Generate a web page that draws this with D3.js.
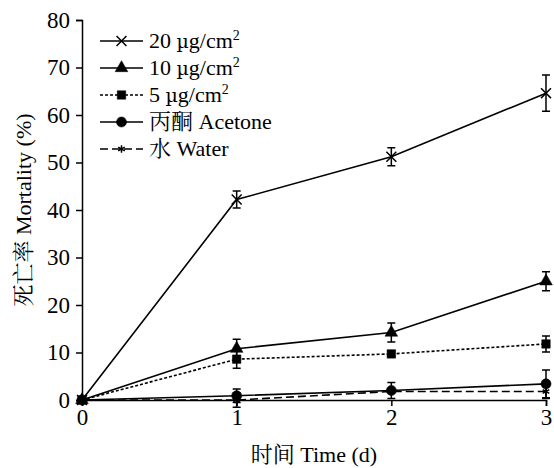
<!DOCTYPE html>
<html>
<head>
<meta charset="utf-8">
<script src="https://cdn.jsdelivr.net/npm/d3@7"></script>
<style>
  body { margin: 0; background: #fff; }
  svg text { font-family: "Liberation Serif", "Noto Serif CJK SC", "Noto Sans CJK SC", serif; fill: #000; }
</style>
</head>
<body>
<svg id="chart" width="554" height="468"></svg>
<script>
var days = [0, 1, 2, 3];
var dose20 = [0, 42.2, 51.2, 64.6];
var dose20Err = [0, 1.8, 1.9, 3.8];
var dose10 = [0, 10.8, 14.2, 25.0];
var dose10Err = [0, 2.0, 2.0, 2.0];
var dose5 = [0, 8.6, 9.7, 11.8];
var dose5Err = [0, 1.9, 0.5, 1.7];
var acetone = [0, 0.9, 2.0, 3.4];
var acetoneErr = [0, 1.4, 1.7, 2.9];
var water = [0, 0, 1.8, 1.8];
var waterErr = [0, 1.5, 0, 1.5];
var yTicks = [0, 10, 20, 30, 40, 50, 60, 70, 80];
// dose labels: number, unit, superscript
var doseLabels = [["20 ", "\u00b5", "g/cm", "2"], ["10 ", "\u00b5", "g/cm", "2"], ["5 ", "\u00b5", "g/cm", "2"]];
var controlLabels = ["丙酮 Acetone", "水 Water"];

var series = [
  { label: doseLabels[0], values: dose20, err: dose20Err, symbol: d3.symbolTimes, size: 66, filled: false, dash: null },
  { label: doseLabels[1], values: dose10, err: dose10Err, symbol: d3.symbolTriangle, size: 70, filled: true, dash: null },
  { label: doseLabels[2], values: dose5, err: dose5Err, symbol: d3.symbolSquare, size: 72, filled: true, dash: "3,2" },
  { label: [controlLabels[0]], values: acetone, err: acetoneErr, symbol: d3.symbolCircle, size: 80, filled: true, dash: null },
  { label: [controlLabels[1]], values: water, err: waterErr, symbol: d3.symbolAsterisk, size: 40, filled: false, dash: "8,4" }
];

var svg = d3.select("#chart");
var x = d3.scaleLinear().domain([0, 3]).range([82, 546]);
var y = d3.scaleLinear().domain([0, 80]).range([400, 20]);

// axes
var xAxis = svg.append("g")
  .attr("transform", "translate(0," + y(0) + ")")
  .call(d3.axisBottom(x).tickValues(days).tickFormat(d3.format("d")).tickSize(6).tickPadding(3));
var yAxis = svg.append("g")
  .attr("transform", "translate(" + x(0) + ",0)")
  .call(d3.axisLeft(y).tickValues(yTicks).tickSize(6).tickPadding(6));
[xAxis, yAxis].forEach(function(a) {
  a.select(".domain").attr("stroke", "#000").attr("stroke-width", 1.5);
  a.selectAll(".tick line").attr("stroke", "#000").attr("stroke-width", 1.5);
  a.selectAll("text").style("font-size", "23px").attr("fill", "#000");
});

svg.append("text")
  .attr("x", x(1.5))
  .attr("y", 462)
  .attr("text-anchor", "middle")
  .style("font-size", "22px")
  .text("时间 Time (d)");

svg.append("text")
  .attr("transform", "translate(31," + y(40) + ") rotate(-90)")
  .attr("text-anchor", "middle")
  .style("font-size", "22px")
  .text("死亡率 Mortality (%)");

var line = d3.line()
  .x(function(d, i) { return x(days[i]); })
  .y(function(d) { return y(d); });

// draw from bottom to top
series.slice().reverse().forEach(function(s) {
  var g = svg.append("g");
  g.append("path")
    .attr("d", line(s.values))
    .attr("fill", "none")
    .attr("stroke", "#000")
    .attr("stroke-width", 1.6)
    .attr("stroke-dasharray", s.dash);

  s.values.forEach(function(v, i) {
    var e = s.err[i];
    if (e > 0) {
      var cx = x(days[i]);
      g.append("path")
        .attr("d", "M" + cx + "," + y(v - e) + "V" + y(v + e) +
          "M" + (cx - 4) + "," + y(v + e) + "H" + (cx + 4) +
          "M" + (cx - 4) + "," + y(v - e) + "H" + (cx + 4))
        .attr("fill", "none")
        .attr("stroke", "#000")
        .attr("stroke-width", 1.5);
    }
    g.append("path")
      .attr("transform", "translate(" + x(days[i]) + "," + y(v) + ")")
      .attr("d", d3.symbol(s.symbol, s.size)())
      .attr("fill", s.filled ? "#000" : "none")
      .attr("stroke", "#000")
      .attr("stroke-width", s.filled ? 0.5 : 1.5);
  });
});

// legend
var legend = svg.append("g");
series.forEach(function(s, i) {
  var ly = 41 + i * 27;
  legend.append("line")
    .attr("x1", 100).attr("x2", 143)
    .attr("y1", ly).attr("y2", ly)
    .attr("stroke", "#000")
    .attr("stroke-width", 1.6)
    .attr("stroke-dasharray", s.dash);
  legend.append("path")
    .attr("transform", "translate(121.5," + ly + ")")
    .attr("d", d3.symbol(s.symbol, s.size)())
    .attr("fill", s.filled ? "#000" : "none")
    .attr("stroke", "#000")
    .attr("stroke-width", s.filled ? 0.5 : 1.5);
  var t = legend.append("text")
    .attr("x", 149)
    .attr("y", ly + 7)
    .style("font-size", "22px");
  if (s.label.length > 1) {
    t.append("tspan").text(s.label[0]);
    t.append("tspan").style("font-family", "'DejaVu Serif', serif").style("font-size", "19px").text(s.label[1]);
    t.append("tspan").text(s.label[2]);
    t.append("tspan").attr("dy", -8).style("font-size", "14px").text(s.label[3]);
  } else {
    t.text(s.label[0]);
  }
});
</script>
</body>
</html>
